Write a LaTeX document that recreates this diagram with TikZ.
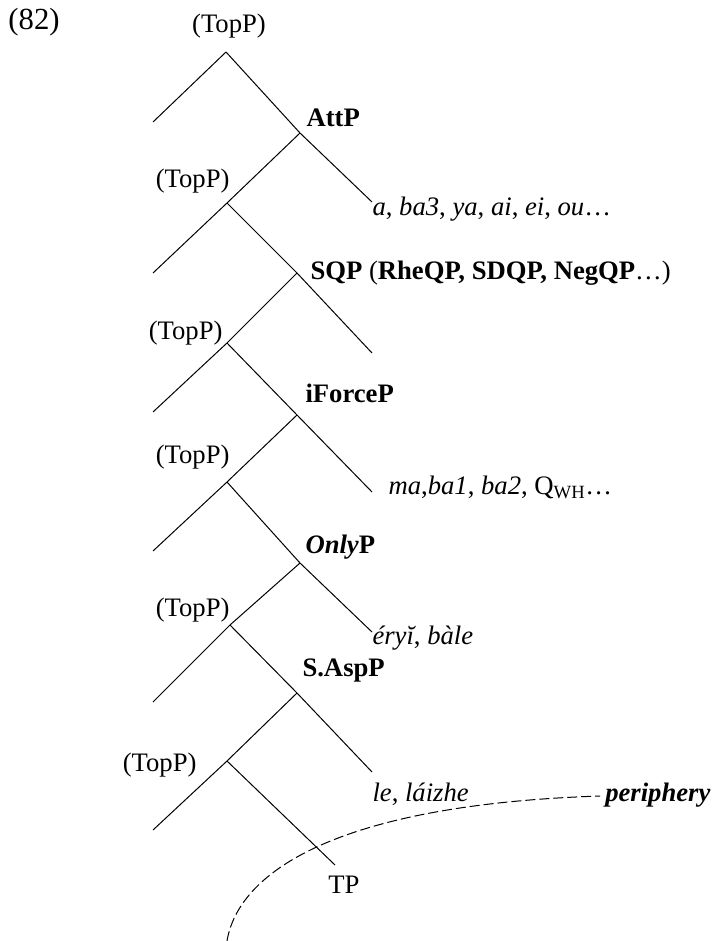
\documentclass[tikz,border=0pt]{standalone}
\usepackage{fontspec}
\setmainfont{Liberation Serif}

\tikzset{every picture/.style={line width=0.75pt}}
\tikzset{txt/.style={inner sep=0pt,font=\fontsize{20}{24}\selectfont}}

\begin{document}
\begin{tikzpicture}[x=0.75pt,y=0.75pt,yscale=-1,xscale=1]
\useasboundingbox (0,0) rectangle (712,941);

%Branch points
\coordinate (top0) at (226,52);
\coordinate (spec0) at (153,122);
\coordinate (att) at (300,133);
\coordinate (attc) at (372,202);
\coordinate (top1) at (227,203);
\coordinate (spec1) at (153,273);
\coordinate (sq) at (297,273);
\coordinate (sqc) at (372,353);
\coordinate (top2) at (227,343);
\coordinate (spec2) at (153,412);
\coordinate (force) at (297,415);
\coordinate (forcec) at (372,492);
\coordinate (top3) at (227,482);
\coordinate (spec3) at (153,551);
\coordinate (only) at (300,563);
\coordinate (onlyc) at (372,632);
\coordinate (top4) at (230,625);
\coordinate (spec4) at (153,702);
\coordinate (asp) at (297,693);
\coordinate (aspc) at (372,772);
\coordinate (top5) at (227,761);
\coordinate (spec5) at (153,830);
\coordinate (tpend) at (335,865);
\coordinate (arcstart) at (227,941);
\coordinate (arcend) at (600,796);

%Straight Lines
\draw (top0) -- (spec0);
\draw (top0) -- (att) -- (attc);
\draw (att) -- (top1) -- (spec1);
\draw (top1) -- (sq) -- (sqc);
\draw (sq) -- (top2) -- (spec2);
\draw (top2) -- (force) -- (forcec);
\draw (force) -- (top3) -- (spec3);
\draw (top3) -- (only) -- (onlyc);
\draw (only) -- (top4) -- (spec4);
\draw (top4) -- (asp) -- (aspc);
\draw (asp) -- (top5) -- (spec5);
\draw (top5) -- (tpend);

%Curve Lines
\draw [dash pattern=on 7.5pt off 3pt] (arcstart) .. controls (238,875) and (330,805) .. (arcend);

% Text Node
\node (exno) [txt, anchor=base west, font=\fontsize{23}{27}\selectfont] at (8,30) {(82)};
% Text Node
\node (topl0) [txt, anchor=base] at (229,33) {(TopP)};
% Text Node
\node (attl) [txt, anchor=base west] at (306,127) {\textbf{AttP}};
% Text Node
\node (attw) [txt, anchor=base west] at (372,216) {\textit{a}, \textit{ba3}, \textit{ya}, \textit{ai}, \textit{ei}, \textit{ou}\ldots};
% Text Node
\node (topl1) [txt, anchor=base east] at (230,188) {(TopP)};
% Text Node
\node (sql) [txt, anchor=base west] at (310,279) {\textbf{SQP} (\textbf{RheQP, SDQP, NegQP}\ldots)};
% Text Node
\node (topl2) [txt, anchor=base east] at (223,339) {(TopP)};
% Text Node
\node (forcel) [txt, anchor=base west] at (305,402) {\textbf{iForceP}};
% Text Node
\node (topl3) [txt, anchor=base east] at (230,463) {(TopP)};
% Text Node
\node (forcew) [txt, anchor=base west] at (388,494) {\textit{ma},\textit{ba1}, \textit{ba2}, Q\textsubscript{WH}\ldots};
% Text Node
\node (onlyl) [txt, anchor=base west] at (305,553) {\textbf{\textit{Only}P}};
% Text Node
\node (topl4) [txt, anchor=base east] at (230,616) {(TopP)};
% Text Node
\node (onlyw) [txt, anchor=base west] at (372,644) {\textit{éryĭ}, \textit{bàle}};
% Text Node
\node (aspl) [txt, anchor=base west] at (302,676) {\textbf{S.AspP}};
% Text Node
\node (topl5) [txt, anchor=base east] at (197,771) {(TopP)};
% Text Node
\node (aspw) [txt, anchor=base west] at (372,801) {\textit{le}, \textit{láizhe}};
% Text Node
\node (peri) [txt, anchor=base east] at (711,801) {\textbf{\textit{periphery}}};
% Text Node
\node (tpl) [txt, anchor=base] at (344,893) {TP};

\end{tikzpicture}
\end{document}
